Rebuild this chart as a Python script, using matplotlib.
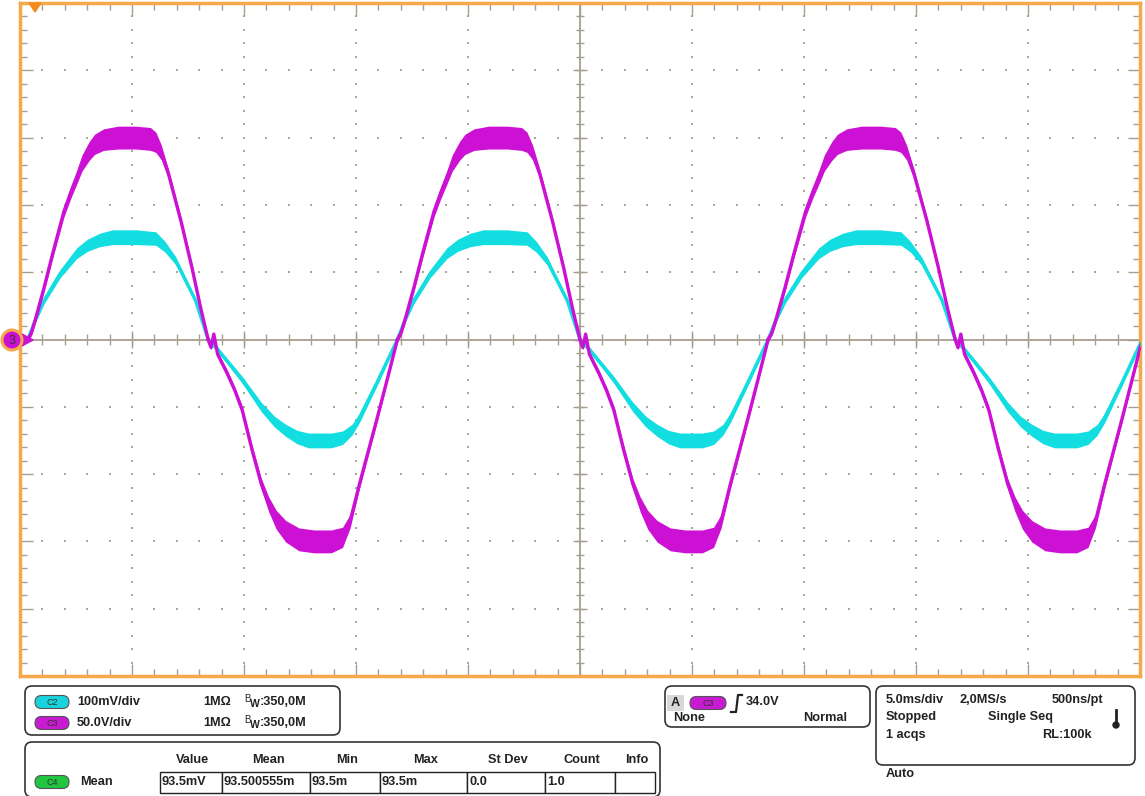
import numpy as np
import matplotlib
matplotlib.use('Agg')
import matplotlib.pyplot as plt
from matplotlib.patches import FancyBboxPatch, Rectangle, Polygon, Circle

plt.rcParams['font.family'] = ['Liberation Sans', 'DejaVu Sans']

# zero crossings of the traces (in divisions, screen is 10 x 10 div)
crossings = [0.07, 1.68, 3.37, 5.0, 6.68, 8.35, 10.02]

# one half cycle (fraction of half period, div, noise half width)
mag_pos_f = [0, 0.02, 0.04, 0.09, 0.14, 0.20, 0.24, 0.27, 0.30, 0.34, 0.37, 0.42, 0.50, 0.60, 0.68, 0.71, 0.74, 0.78, 0.85, 0.91, 0.96, 1.0]
mag_pos_v = [0, 0.10, 0.28, 0.77, 1.30, 1.90, 2.20, 2.40, 2.62, 2.80, 2.90, 2.97, 3.00, 3.00, 2.98, 2.93, 2.78, 2.46, 1.75, 1.07, 0.45, 0]
mag_pos_w = [0.03, 0.04, 0.05, 0.06, 0.07, 0.08, 0.09, 0.10, 0.12, 0.14, 0.15, 0.16, 0.17, 0.17, 0.17, 0.15, 0.11, 0.07, 0.06, 0.05, 0.04, 0.03]
mag_neg_f = [0, 0.015, 0.03, 0.05, 0.10, 0.14, 0.18, 0.23, 0.28, 0.32, 0.36, 0.41, 0.48, 0.56, 0.65, 0.71, 0.75, 0.80, 0.89, 0.95, 1.0]
mag_neg_v = [0, -0.12, 0.08, -0.22, -0.50, -0.75, -1.05, -1.62, -2.14, -2.45, -2.68, -2.85, -2.97, -3.00, -3.00, -2.94, -2.70, -2.14, -1.20, -0.55, 0]
mag_neg_w = [0.03, 0.03, 0.03, 0.04, 0.05, 0.05, 0.06, 0.07, 0.08, 0.11, 0.14, 0.16, 0.17, 0.17, 0.17, 0.15, 0.10, 0.07, 0.05, 0.04, 0.03]

cy_pos_f = [0, 0.04, 0.09, 0.18, 0.27, 0.33, 0.40, 0.47, 0.60, 0.71, 0.76, 0.82, 0.93, 1.0]
cy_pos_v = [0, 0.28, 0.58, 0.98, 1.28, 1.40, 1.48, 1.52, 1.52, 1.50, 1.38, 1.17, 0.58, 0]
cy_pos_w = [0.03, 0.04, 0.05, 0.06, 0.08, 0.09, 0.10, 0.11, 0.11, 0.10, 0.08, 0.06, 0.04, 0.03]
cy_neg_f = [0, 0.05, 0.10, 0.18, 0.28, 0.35, 0.41, 0.47, 0.53, 0.65, 0.71, 0.76, 0.80, 0.89, 1.0]
cy_neg_v = [0, -0.15, -0.32, -0.60, -1.00, -1.22, -1.35, -1.45, -1.50, -1.50, -1.46, -1.34, -1.16, -0.65, 0]
cy_neg_w = [0.03, 0.04, 0.04, 0.05, 0.07, 0.08, 0.09, 0.10, 0.11, 0.11, 0.10, 0.08, 0.07, 0.05, 0.03]

ch_rows = [('C2', '#19d3dc', '100mV/div'), ('C3', '#c81ad0', '50.0V/div')]
meas_head = ['Value', 'Mean', 'Min', 'Max', 'St Dev', 'Count', 'Info']
meas_vals = ['93.5mV', '93.500555m', '93.5m', '93.5m', '0.0', '1.0', '']

MAG = '#cc11d4'
CYAN = '#12dde0'
ORANGE = '#f5a94a'
GRID = '#a59f8f'

W, H = 1145, 796
fig = plt.figure(figsize=(W / 100, H / 100), dpi=100)
fig.patch.set_facecolor('white')

ax = fig.add_axes([20 / W, (H - 676) / H, 1120 / W, 673 / H])
ax.set_xlim(0, 10)
ax.set_ylim(-5, 5)
for s in ax.spines.values():
    s.set_color(ORANGE)
    s.set_linewidth(2.5)
ax.set_xticks(np.arange(0, 10.01, 1))
ax.set_yticks(np.arange(-5, 5.01, 1))
ax.set_xticks(np.arange(0, 10.01, 0.2), minor=True)
ax.set_yticks(np.arange(-5, 5.01, 0.2), minor=True)
ax.tick_params(which='both', direction='in', top=True, right=True, color=GRID,
               labelbottom=False, labelleft=False)
ax.tick_params(which='major', length=9, width=1)
ax.tick_params(which='minor', length=5, width=1)

# dotted grid
gy = np.arange(-5, 5.01, 0.2)
for x in np.arange(1, 10, 1):
    if x != 5:
        ax.plot(np.full_like(gy, x), gy, ls='none', marker='s', ms=1.5, color='#aaa598', mew=0)
xs = np.arange(0, 10.01, 0.2)
for y in np.arange(-4, 5, 1):
    if y != 0:
        ax.plot(xs, np.full_like(xs, y), ls='none', marker='s', ms=1.5, color='#aaa598', mew=0)

# centre cross with ticks
ax.axhline(0, color=GRID, lw=1.3, zorder=1)
ax.axvline(5, color=GRID, lw=1.3, zorder=1)
ax.vlines(np.arange(0, 10.01, 0.2), -0.08, 0.08, color=GRID, lw=1, zorder=1)
ax.vlines(np.arange(0, 10.01, 1), -0.13, 0.13, color=GRID, lw=1, zorder=1)
ax.hlines(np.arange(-5, 5.01, 0.2), 4.96, 5.04, color=GRID, lw=1, zorder=1)
ax.hlines(np.arange(-5, 5.01, 1), 4.94, 5.06, color=GRID, lw=1, zorder=1)


def trace(color, pf, pv, pw, nf, nv, nw):
    for i in range(len(crossings) - 1):
        a, b = crossings[i], crossings[i + 1]
        if i % 2 == 0:
            f, v, w = pf, pv, pw
        else:
            f, v, w = nf, nv, nw
        x = a + (b - a) * np.array(f)
        v = np.array(v)
        w = np.array(w)
        ax.fill_between(x, v - w, v + w, color=color, lw=0, zorder=3)
        ax.plot(x, v, color=color, lw=2.4, zorder=3, solid_joinstyle='round')


trace(CYAN, cy_pos_f, cy_pos_v, cy_pos_w, cy_neg_f, cy_neg_v, cy_neg_w)
trace(MAG, mag_pos_f, mag_pos_v, mag_pos_w, mag_neg_f, mag_neg_v, mag_neg_w)

# overlay in pixel coordinates for the info panels
ov = fig.add_axes([0, 0, 1, 1], facecolor='none')
ov.set_xlim(0, W)
ov.set_ylim(H, 0)
ov.axis('off')

# trigger marker and channel marker
ov.add_patch(Polygon([[29, 3], [41, 3], [35, 12]], closed=True, color='#f58a1f'))
ov.add_patch(Polygon([[22, 334], [22, 346], [33, 340]], closed=True, color=MAG))
ov.add_patch(Circle((12, 340), 10, facecolor=MAG, edgecolor=ORANGE, lw=2.2))
ov.text(12, 341, '3', ha='center', va='center', fontsize=9, color='#333333')


def box(x0, y0, x1, y1):
    ov.add_patch(FancyBboxPatch((x0, y0), x1 - x0, y1 - y0,
                                boxstyle='round,pad=0,rounding_size=7',
                                fc='white', ec='#333333', lw=1.2))


def pill(xc, yc, label, color, w=34, h=13):
    ov.add_patch(FancyBboxPatch((xc - w / 2, yc - h / 2), w, h,
                                boxstyle='round,pad=0,rounding_size=6.5',
                                fc=color, ec='#555555', lw=0.8))
    ov.text(xc, yc + 0.5, label, ha='center', va='center', fontsize=6.5, color='#333333')


fs = 9.2
kw = dict(fontsize=fs, fontweight='bold', color='#222222', va='center')

# channel box
box(25, 686, 340, 735)
for j, (c, col, vd) in enumerate(ch_rows):
    y = 702 + j * 21
    pill(52, y, c, col)
    ov.text(77, y, vd, **kw)
    ov.text(203, y, '1MΩ', **kw)
    ov.text(244, y - 3, 'B', fontsize=7, color='#222222', va='center')
    ov.text(250, y + 2, 'W', fontsize=7.5, fontweight='bold', color='#222222', va='center')
    ov.text(260, y, ':350,0M', **kw)

# measurement table
box(25, 742, 660, 797)
col_x = [160, 222, 310, 380, 467, 545, 615, 655]
for i, h in enumerate(meas_head):
    ov.text((col_x[i] + col_x[i + 1]) / 2 + 2, 760, h, ha='center',
            fontsize=fs, fontweight='bold', color='#222222', va='center')
pill(52, 782, 'C4', '#21c640')
ov.text(80, 782, 'Mean', **kw)
for i, v in enumerate(meas_vals):
    ov.add_patch(Rectangle((col_x[i], 772), col_x[i + 1] - col_x[i], 21,
                           fc='white', ec='#222222', lw=1))
    ov.text(col_x[i] + 2, 782, v, **kw)

# trigger box
box(665, 686, 870, 727)
ov.add_patch(Rectangle((667, 695), 17, 16, fc='#d8d8d8', ec='none'))
ov.text(671, 703, 'A', **kw)
pill(708, 703, 'C3', '#c81ad0', w=36)
ov.plot([731, 736, 738, 742], [712, 712, 695, 695], color='#222222', lw=1.6)
ov.text(746, 702, '34.0V', **kw)
ov.text(673, 718, 'None', **kw)
ov.text(803, 718, 'Normal', **kw)

# timebase box
box(876, 686, 1135, 765)
ov.text(886, 700, '5.0ms/div', **kw)
ov.text(960, 700, '2,0MS/s', **kw)
ov.text(1052, 700, '500ns/pt', **kw)
ov.text(886, 717, 'Stopped', **kw)
ov.text(988, 717, 'Single Seq', **kw)
ov.text(886, 735, '1 acqs', **kw)
ov.text(1042, 735, 'RL:100k', **kw)
ov.plot([1116, 1116], [710, 723], color='#222222', lw=2)
ov.add_patch(Circle((1116, 725), 3, color='#222222'))
ov.text(886, 774, 'Auto', **kw)

fig.savefig('out.png', dpi=100)
